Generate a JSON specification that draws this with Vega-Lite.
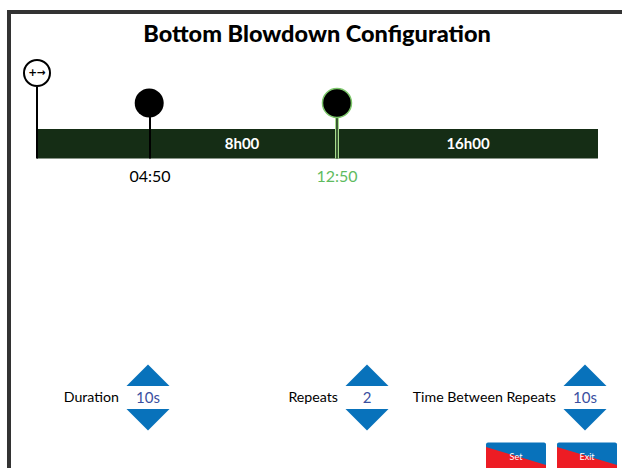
{
"$schema":"https://vega.github.io/schema/vega-lite/v6.json",
"width":622,"height":468,"autosize":"none","padding":0,
"background":"white",
"view":{"stroke":null},
"title":{"text":"Bottom Blowdown Configuration","font":"Lato","fontSize":23.5,"fontWeight":900,"color":"#000000","anchor":"middle","frame":"group","dx":6,"offset":-65,"baseline":"alphabetic"},
"encoding":{
"x":{"field":"h","type":"quantitative","scale":{"domain":[-1.5829,25.0267],"nice":false,"zero":false},"axis":null},
"y":{"field":"y","type":"quantitative","scale":{"domain":[468,0],"nice":false,"zero":false},"axis":null}
},
"layer":[
{"data":{"values":[{"h":-1.198,"h2":25.03,"y":12,"y2":12}]},"mark":{"type":"rule","color":"#333333","strokeWidth":4},"encoding":{"x2":{"field":"h2"},"y2":{"field":"y2"}}},
{"data":{"values":[{"h":-1.198,"h2":-1.198,"y":10,"y2":468}]},"mark":{"type":"rule","color":"#333333","strokeWidth":4},"encoding":{"x2":{"field":"h2"},"y2":{"field":"y2"}}},
{"data":{"values":[{"h":0,"h2":24,"y":129,"y2":158.5}]},"mark":{"type":"rect","color":"#152d15"},"encoding":{"x2":{"field":"h2"},"y2":{"field":"y2"}}},
{"data":{"values":[{"h":0,"y":87,"y2":158.5},{"h":4.8333,"y":117,"y2":158.5}]},"mark":{"type":"rule","color":"#000000","strokeWidth":2},"encoding":{"y2":{"field":"y2"}}},
{"data":{"values":[{"h":12.8333,"y":117,"y2":158.5}]},"mark":{"type":"rule","color":"#a6dc8c","strokeWidth":4},"encoding":{"y2":{"field":"y2"}}},
{"data":{"values":[{"h":12.8333,"y":117,"y2":158.5}]},"mark":{"type":"rule","color":"#152d15","strokeWidth":1.5},"encoding":{"y2":{"field":"y2"}}},
{"data":{"values":[{"h":4.8,"y":103}]},"mark":{"type":"point","filled":true,"opacity":1,"color":"#000000","size":841}},
{"data":{"values":[{"h":12.8333,"y":103}]},"mark":{"type":"point","filled":true,"opacity":1,"fill":"#000000","stroke":"#7cc66a","strokeWidth":1.5,"size":841}},
{"data":{"values":[{"h":0,"y":73}]},"mark":{"type":"point","filled":true,"opacity":1,"fill":"#ffffff","stroke":"#000000","strokeWidth":2,"size":676}},
{"data":{"values":[{"h":0,"y":73,"t":"+→"}]},"mark":{"type":"text","font":"DejaVu Sans","fontSize":10.5,"fontWeight":"bold","color":"#000000","align":"center","baseline":"middle"},"encoding":{"text":{"field":"t"}}},
{"data":{"values":[{"h":8.77,"y":144,"t":"8h00"},{"h":18.44,"y":144,"t":"16h00"}]},"mark":{"type":"text","font":"Lato","fontSize":15,"fontWeight":"bold","color":"#ffffff","align":"center","baseline":"middle"},"encoding":{"text":{"field":"t"}}},
{"data":{"values":[{"h":4.8333,"y":176.5,"t":"04:50"}]},"mark":{"type":"text","font":"Lato","fontSize":16,"color":"#000000","align":"center","baseline":"middle"},"encoding":{"text":{"field":"t"}}},
{"data":{"values":[{"h":12.8333,"y":176.5,"t":"12:50"}]},"mark":{"type":"text","font":"Lato","fontSize":16,"color":"#5fbb5f","align":"center","baseline":"middle"},"encoding":{"text":{"field":"t"}}},
{"data":{"values":[{"h":4.749,"y":386},{"h":14.118,"y":386},{"h":23.444,"y":386}]},"mark":{"type":"point","filled":true,"opacity":1,"color":"#0872bb","strokeWidth":0,"shape":"M-1,0L1,0L0,-1Z","size":1849}},
{"data":{"values":[{"h":4.749,"y":409},{"h":14.118,"y":409},{"h":23.444,"y":409}]},"mark":{"type":"point","filled":true,"opacity":1,"color":"#0872bb","strokeWidth":0,"shape":"M-1,0L1,0L0,1Z","size":1849}},
{"data":{"values":[{"h":3.508,"y":398,"t":"Duration"},{"h":12.877,"y":398,"t":"Repeats"},{"h":22.203,"y":398,"t":"Time Between Repeats"}]},"mark":{"type":"text","font":"Lato","fontSize":14.2,"color":"#000000","align":"right","baseline":"middle"},"encoding":{"text":{"field":"t"}}},
{"data":{"values":[{"h":4.749,"y":398,"t":"10s"},{"h":14.118,"y":398,"t":"2"},{"h":23.444,"y":398,"t":"10s"}]},"mark":{"type":"text","font":"Lato","fontSize":15,"color":"#3a4f9f","align":"center","baseline":"middle"},"encoding":{"text":{"field":"t"}}},
{"data":{"values":[{"h":19.209,"h2":21.775,"y":442.5,"y2":468},{"h":22.246,"h2":24.813,"y":442.5,"y2":468}]},"mark":{"type":"rect","color":"#0872bb","cornerRadius":2},"encoding":{"x2":{"field":"h2"},"y2":{"field":"y2"}}},
{"data":{"values":[{"b":"Set","h":19.209,"y":447,"y2":468},{"b":"Set","h":21.775,"y":465,"y2":468},{"b":"Exit","h":22.246,"y":447,"y2":468},{"b":"Exit","h":24.813,"y":465,"y2":468}]},"mark":{"type":"area","color":"#ed1c24","opacity":1},"encoding":{"y2":{"field":"y2"},"detail":{"field":"b"}}},
{"data":{"values":[{"h":20.492,"y":457,"t":"Set"},{"h":23.529,"y":457,"t":"Exit"}]},"mark":{"type":"text","font":"Lato","fontSize":9,"color":"#ffffff","align":"center","baseline":"middle"},"encoding":{"text":{"field":"t"}}}
]}
